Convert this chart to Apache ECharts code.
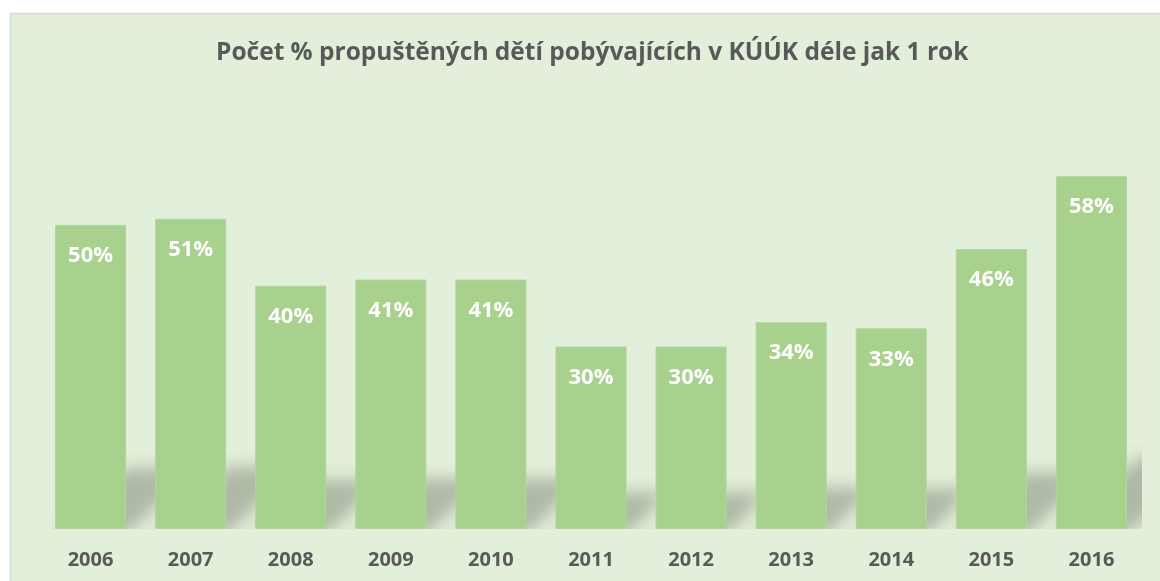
<!DOCTYPE html>
<html>
<head>
<meta charset="utf-8">
<script src="https://cdn.jsdelivr.net/npm/echarts@6/dist/echarts.min.js"></script>
<style>
html,body{margin:0;padding:0;background:#ffffff;}
#chart{position:absolute;left:0;top:0;width:1160px;height:581px;}
</style>
</head>
<body>
<div id="chart"></div>
<script>
const titleText = 'Počet % propuštěných dětí pobývajících v KÚÚK déle jak 1 rok';
const years = ['2006','2007','2008','2009','2010','2011','2012','2013','2014','2015','2016'];
const percents = [50, 51, 40, 41, 41, 30, 30, 34, 33, 46, 58];

const BAR_COLOR = '#a9d18e';
const BG = '#e2efda';
const TEXT = '#595959';
const FONT = '"Open Sans", "Noto Sans", sans-serif';

const chart = echarts.init(document.getElementById('chart'), null, {renderer: 'canvas'});

function shadowItem(params, api) {
  const base = api.coord([api.value(0), 0]);
  const top = api.coord([api.value(0), api.value(1)]);
  const bw = api.size([1, 0])[0] * 0.71;
  const barH = base[1] - top[1];
  const h = barH * 0.2;
  const dx = h * 1.15;
  const x0 = base[0] - bw / 2, x1 = base[0] + bw / 2, y0 = base[1];
  const OFF = 4000;
  return {
    type: 'polygon',
    shape: {points: [[x0 - OFF + 2, y0 + 4], [x1 - OFF + 2, y0 + 4], [x1 + dx - OFF, y0 - h], [x0 + dx - OFF, y0 - h]]},
    style: {
      fill: '#000',
      shadowColor: 'rgba(110,120,105,0.45)',
      shadowBlur: 16,
      shadowOffsetX: OFF,
      shadowOffsetY: 0
    },
    silent: true
  };
}

chart.setOption({
  backgroundColor: '#ffffff',
  animation: false,
  graphic: [{
    type: 'rect',
    z: -10,
    shape: {x: 10.5, y: 13.5, width: 1200, height: 600},
    style: {fill: BG, stroke: '#d9d9d9', lineWidth: 1.5},
    silent: true
  }],
  title: {
    text: titleText,
    left: 216,
    top: 41,
    padding: 0,
    textStyle: {fontFamily: FONT, fontWeight: 'bold', fontSize: 24.5, color: TEXT}
  },
  grid: {left: 40.5, right: 18.5, top: 164, bottom: 52, containLabel: false},
  xAxis: {
    type: 'category',
    data: years,
    axisLine: {show: false},
    axisTick: {show: false},
    axisLabel: {margin: 21, fontFamily: FONT, fontWeight: 'bold', fontSize: 20, color: TEXT}
  },
  yAxis: {
    type: 'value',
    min: 0, max: 60, interval: 10,
    show: false,
    splitLine: {show: false}
  },
  series: [
    {
      type: 'custom',
      data: percents.map((v, i) => [i, v]),
      renderItem: shadowItem,
      clip: true,
      z: 1,
      silent: true
    },
    {
      type: 'bar',
      data: percents,
      barWidth: '71%',
      z: 2,
      itemStyle: {color: BAR_COLOR, borderColor: '#b3d69c', borderWidth: 1},
      label: {
        show: true,
        position: 'insideTop',
        distance: 20,
        formatter: p => p.value + '%',
        fontFamily: FONT, fontWeight: 'bold', fontSize: 22, color: '#ffffff'
      },
      silent: true
    }
  ]
});
</script>
</body>
</html>
